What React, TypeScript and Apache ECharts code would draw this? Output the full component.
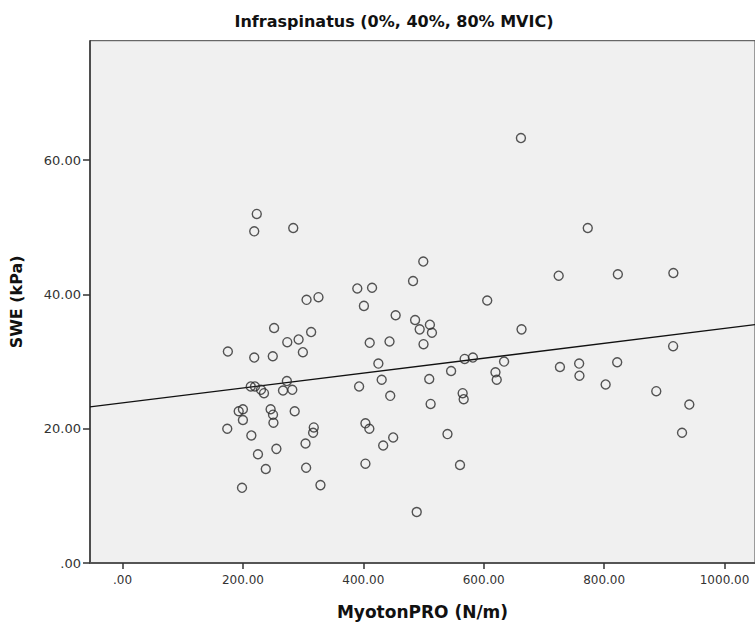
import React, { useEffect, useRef } from "react";
import * as echarts from "echarts";

// MyotonPRO (N/m) values
const myotonX = [
  174, 175, 193, 200, 200, 198.5, 214, 213, 220, 218.8, 218.8, 223, 225, 230, 235, 238,
  246, 250, 250.7, 249.6, 251.8, 255.6, 266.6, 273, 273.7, 282, 283.6, 286, 292.5, 299.6,
  304, 305, 305.7, 313.3, 317.7, 316.6, 325.5, 328.8,
  390, 393, 401, 403.5, 403.5, 410, 410.6, 414.5, 425, 430.5, 433, 443.5, 444.7, 449.6,
  453.7, 482.6, 486, 488.7, 493.6, 499.6, 500, 509.5, 510.6, 511.8, 514, 539.8, 545.8,
  560.6, 565, 566.7, 568.3, 582, 605.8, 619.5, 621.6, 633.8, 661.8, 662.8,
  724.5, 726.6, 758.5, 759, 772.8, 802.5, 821.7, 822.8, 886.6, 914.6, 915, 929.4, 941.5,
];

// SWE (kPa) values
const sweY = [
  20.0, 31.5, 22.6, 22.9, 21.3, 11.2, 19.0, 26.3, 26.3, 30.6, 49.4, 52.0, 16.2, 25.8, 25.3, 14.0,
  22.9, 22.1, 20.9, 30.8, 35.0, 17.0, 25.7, 27.1, 32.9, 25.8, 49.9, 22.6, 33.3, 31.4,
  17.8, 14.2, 39.2, 34.4, 20.2, 19.4, 39.6, 11.6,
  40.9, 26.3, 38.3, 20.8, 14.8, 20.0, 32.8, 41.0, 29.7, 27.3, 17.5, 33.0, 24.9, 18.7,
  36.9, 42.0, 36.2, 7.6, 34.8, 44.9, 32.6, 27.4, 35.5, 23.7, 34.3, 19.2, 28.6,
  14.6, 25.3, 24.4, 30.4, 30.6, 39.1, 28.4, 27.3, 30.0, 63.3, 34.8,
  42.8, 29.2, 29.7, 27.9, 49.9, 26.6, 29.9, 43.0, 25.6, 32.3, 43.2, 19.4, 23.6,
];

const xTickValues = [0, 200, 400, 600, 800, 1000];
const yTickValues = [0, 20, 40, 60];

// Linear fit line (as drawn in the reference)
const fitIntercept = 23.85;
const fitSlope = 0.0111;

const X_MIN = -54;
const X_MAX = 1050.6;
const Y_MIN = 0;
const Y_MAX = 77.8;

const fmt = (v: number) => (v === 0 ? ".00" : v.toFixed(2));

export default function App() {
  const ref = useRef<HTMLDivElement>(null);

  useEffect(() => {
    if (!ref.current) return;
    const chart = echarts.init(ref.current, undefined, { renderer: "svg" });
    const points = myotonX.map((x, i) => [x, sweY[i]]);
    const fitLine = [
      [X_MIN, fitIntercept + fitSlope * X_MIN],
      [X_MAX, fitIntercept + fitSlope * X_MAX],
    ];
    chart.setOption({
      animation: false,
      backgroundColor: "#ffffff",
      title: {
        text: "Infraspinatus (0%, 40%, 80% MVIC)",
        left: 389,
        top: 8,
        textAlign: "center",
        textStyle: {
          fontFamily: "DejaVu Sans",
          fontWeight: "bold",
          fontSize: 16,
          color: "#111",
        },
      },
      grid: {
        left: 87.5,
        top: 40.7,
        width: 670,
        height: 527.3,
        show: true,
        backgroundColor: "#f0f0f0",
        borderColor: "#444",
        borderWidth: 1,
        containLabel: false,
      },
      xAxis: {
        type: "value",
        min: X_MIN,
        max: X_MAX,
        name: "MyotonPRO (N/m)",
        nameLocation: "middle",
        nameGap: 40,
        nameTextStyle: {
          fontFamily: "DejaVu Sans",
          fontWeight: "bold",
          fontSize: 17,
          color: "#111",
        },
        splitLine: { show: false },
        axisLine: { show: true, onZero: false, lineStyle: { color: "#555", width: 2 } },
        axisTick: {
          show: true,
          inside: false,
          length: 6,
          customValues: xTickValues,
          lineStyle: { color: "#333", width: 1.5 },
        },
        axisLabel: {
          customValues: xTickValues,
          formatter: (v: number) => fmt(v),
          fontFamily: "DejaVu Sans",
          fontSize: 12,
          color: "#333",
          margin: 11,
        },
      },
      yAxis: {
        type: "value",
        min: Y_MIN,
        max: Y_MAX,
        name: "SWE (kPa)",
        nameLocation: "middle",
        nameGap: 66,
        nameTextStyle: {
          fontFamily: "DejaVu Sans",
          fontWeight: "bold",
          fontSize: 16,
          color: "#111",
        },
        splitLine: { show: false },
        axisLine: { show: true, onZero: false, lineStyle: { color: "#333", width: 1.5 } },
        axisTick: {
          show: true,
          inside: false,
          length: 7,
          customValues: yTickValues,
          lineStyle: { color: "#333", width: 1.5 },
        },
        axisLabel: {
          customValues: yTickValues,
          formatter: (v: number) => fmt(v),
          fontFamily: "DejaVu Sans",
          fontSize: 13,
          color: "#333",
          margin: 9,
        },
      },
      series: [
        {
          type: "scatter",
          data: points,
          symbol: "circle",
          symbolSize: 9,
          itemStyle: { color: "rgba(0,0,0,0)", borderColor: "#2a2a2a", borderWidth: 1.4 },
          silent: true,
          z: 3,
        },
        {
          type: "line",
          data: fitLine,
          symbol: "none",
          lineStyle: { color: "#111", width: 1.4 },
          silent: true,
          z: 2,
        },
      ],
    });
    return () => chart.dispose();
  }, []);

  return (
    <div
      ref={ref}
      style={{ position: "absolute", left: 0, top: 0, width: 755, height: 625 }}
    />
  );
}
